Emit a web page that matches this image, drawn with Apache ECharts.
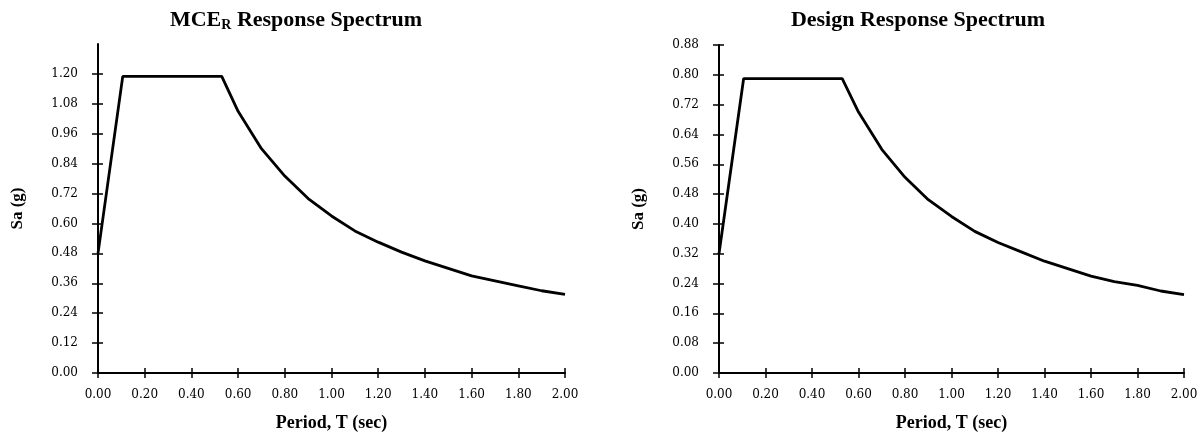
<!DOCTYPE html>
<html>
<head>
<meta charset="utf-8">
<script src="https://cdn.jsdelivr.net/npm/echarts@6/dist/echarts.min.js"></script>
<style>
html,body{margin:0;padding:0;background:#fff;}
#c{width:1202px;height:437px;}
</style>
</head>
<body>
<div id="c"></div>
<script>
// Period T (sec)
const periods = [0, 0.106, 0.53, 0.6, 0.7, 0.8, 0.9, 1.0, 1.1, 1.2, 1.3, 1.4, 1.5, 1.6, 1.7, 1.8, 1.9, 2.0];
// MCE_R spectral acceleration Sa (g)
const mceSa = [0.48, 1.19, 1.19, 1.05, 0.90, 0.79, 0.70, 0.63, 0.57, 0.525, 0.485, 0.45, 0.42, 0.39, 0.37, 0.35, 0.33, 0.315];
// Design spectral acceleration Sa (g)
const designSa = [0.32, 0.79, 0.79, 0.70, 0.60, 0.525, 0.465, 0.42, 0.38, 0.35, 0.325, 0.30, 0.28, 0.26, 0.245, 0.235, 0.22, 0.21];

const xTicks = [0, 0.2, 0.4, 0.6, 0.8, 1.0, 1.2, 1.4, 1.6, 1.8, 2.0];
const mceYTicks = [0, 0.12, 0.24, 0.36, 0.48, 0.60, 0.72, 0.84, 0.96, 1.08, 1.20];
const designYTicks = [0, 0.08, 0.16, 0.24, 0.32, 0.40, 0.48, 0.56, 0.64, 0.72, 0.80, 0.88];

const titles = ['MCE{sub|R} Response Spectrum', 'Design Response Spectrum'];
const xName = 'Period, T (sec)';
const yName = 'Sa (g)';

const serif = '"Liberation Serif", "Times New Roman", serif';
const tickFont = '"DejaVu Serif", serif';

const chart = echarts.init(document.getElementById('c'), null, {renderer: 'canvas'});

function xAxes(gridIndex) {
  const common = {
    type: 'value', gridIndex: gridIndex, min: 0, max: 2, interval: 0.2,
    position: 'bottom', offset: 0, splitLine: {show: false}
  };
  return [
    Object.assign({}, common, {
      name: xName, nameLocation: 'middle', nameGap: 41,
      nameTextStyle: {fontFamily: serif, fontWeight: 'bold', fontSize: 18, color: '#000'},
      axisLine: {show: true, lineStyle: {color: '#000', width: 2}},
      axisTick: {show: true, inside: false, length: 5, lineStyle: {color: '#000', width: 1.5}, customValues: xTicks},
      axisLabel: {show: true, margin: 16, fontFamily: tickFont, fontSize: 12, color: '#000',
        customValues: xTicks, formatter: v => v.toFixed(2)}
    }),
    Object.assign({}, common, {
      axisLine: {show: false},
      axisTick: {show: true, inside: true, length: 5, lineStyle: {color: '#000', width: 1.5}, customValues: xTicks},
      axisLabel: {show: false}
    })
  ];
}

function yAxes(gridIndex, max, interval, ticks) {
  const common = {
    type: 'value', gridIndex: gridIndex, min: 0, max: max, interval: interval,
    position: 'left', offset: 0, splitLine: {show: false}
  };
  return [
    Object.assign({}, common, {
      name: yName, nameLocation: 'middle', nameGap: 72, nameRotate: 90,
      nameTextStyle: {fontFamily: serif, fontWeight: 'bold', fontSize: 17, color: '#000'},
      axisLine: {show: true, lineStyle: {color: '#000', width: 2}},
      axisTick: {show: true, inside: false, length: 6, lineStyle: {color: '#000', width: 1.5}, customValues: ticks},
      axisLabel: {show: true, margin: 20, fontFamily: tickFont, fontSize: 12, color: '#000',
        customValues: ticks, formatter: v => v.toFixed(2)}
    }),
    Object.assign({}, common, {
      axisLine: {show: false},
      axisTick: {show: true, inside: true, length: 5, lineStyle: {color: '#000', width: 1.5}, customValues: ticks},
      axisLabel: {show: false}
    })
  ];
}

const titleStyle = {
  fontFamily: serif, fontWeight: 'bold', fontSize: 22, color: '#000',
  rich: {
    sub: {fontFamily: serif, fontWeight: 'bold', fontSize: 14, color: '#000', padding: [9, 0, 0, 0]}
  }
};

chart.setOption({
  animation: false,
  backgroundColor: '#fff',
  title: [
    {text: titles[0], left: 291, top: 4, textAlign: 'center', textStyle: titleStyle},
    {text: titles[1], left: 913, top: 4, textAlign: 'center', textStyle: titleStyle}
  ],
  grid: [
    {left: 98, top: 44, width: 467, height: 329},
    {left: 719, top: 45, width: 465, height: 330}
  ],
  xAxis: xAxes(0).concat(xAxes(1)),
  yAxis: yAxes(0, 1.32, 0.12, mceYTicks).concat(yAxes(1, 0.88, 0.08, designYTicks)),
  series: [
    {
      type: 'line', xAxisIndex: 0, yAxisIndex: 0, showSymbol: false, symbol: 'none',
      lineStyle: {color: '#000', width: 2.8}, data: periods.map((t, i) => [t, mceSa[i]])
    },
    {
      type: 'line', xAxisIndex: 2, yAxisIndex: 2, showSymbol: false, symbol: 'none',
      lineStyle: {color: '#000', width: 2.8}, data: periods.map((t, i) => [t, designSa[i]])
    }
  ]
});
</script>
</body>
</html>
